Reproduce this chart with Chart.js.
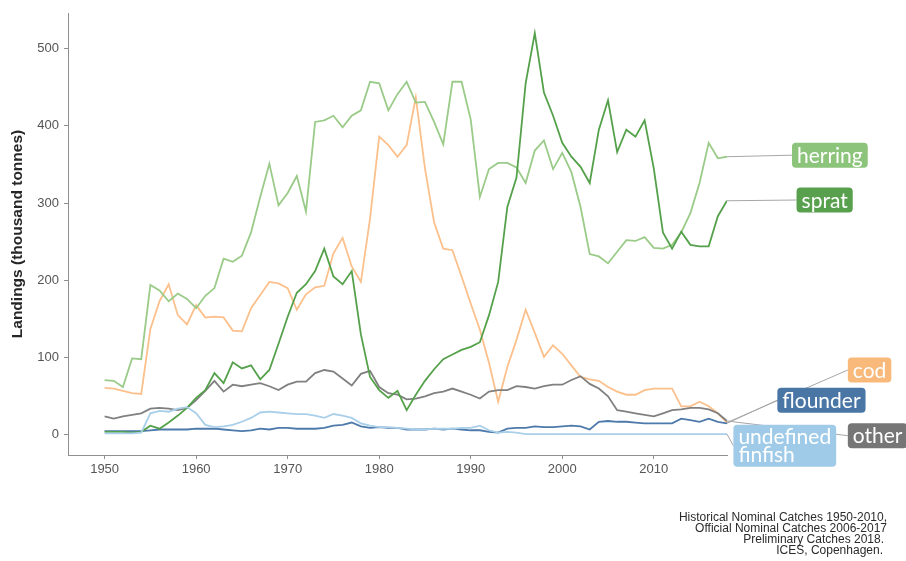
<!DOCTYPE html>
<html>
<head>
<meta charset="utf-8">
<script src="https://cdn.jsdelivr.net/npm/chart.js@4.4.1/dist/chart.umd.min.js"></script>
<style>
  html, body { margin: 0; padding: 0; background: #ffffff; }
  #wrap { width: 906px; height: 561px; }
</style>
</head>
<body>
<div id="wrap"><canvas id="chart" width="906" height="561"></canvas></div>
<script>
// Baltic Sea landings by species, thousand tonnes, 1950-2018
const years = [
  1950, 1951, 1952, 1953, 1954, 1955, 1956, 1957, 1958, 1959,
  1960, 1961, 1962, 1963, 1964, 1965, 1966, 1967, 1968, 1969,
  1970, 1971, 1972, 1973, 1974, 1975, 1976, 1977, 1978, 1979,
  1980, 1981, 1982, 1983, 1984, 1985, 1986, 1987, 1988, 1989,
  1990, 1991, 1992, 1993, 1994, 1995, 1996, 1997, 1998, 1999,
  2000, 2001, 2002, 2003, 2004, 2005, 2006, 2007, 2008, 2009,
  2010, 2011, 2012, 2013, 2014, 2015, 2016, 2017, 2018
];

const herring = [
  71, 70, 62, 99, 98, 194, 187, 173, 183, 176,
  164, 180, 190, 228, 224, 232, 262, 308, 351, 297,
  313, 335, 289, 405, 407, 413, 398, 413, 420, 457,
  455, 420, 441, 457, 430, 431, 405, 376, 457, 457,
  408, 308, 344, 352, 352, 346, 326, 368, 381, 344,
  365, 340, 295, 234, 231, 222, 237, 252, 251, 256,
  242, 241, 246, 262, 287, 326, 378, 358, 360
];

const sprat = [
  4, 4, 4, 3, 4, 12, 8, 16, 25, 35,
  48, 58, 80, 67, 94, 86, 90, 72, 84, 118,
  153, 184, 195, 212, 241, 205, 195, 212, 130, 75,
  58, 48, 57, 32, 52, 70, 85, 98, 104, 110,
  114, 120, 155, 198, 295, 333, 455, 520, 443, 413,
  378, 360, 347, 326, 395, 433, 366, 395, 386, 407,
  345, 262, 241, 263, 246, 244, 244, 283, 303
];

const cod = [
  61, 60, 57, 54, 53, 137, 173, 195, 155, 143,
  168, 152, 153, 152, 135, 134, 164, 181, 198, 196,
  190, 162, 182, 191, 193, 235, 255, 218, 198, 280,
  386, 375, 360, 375, 437, 345, 275, 241, 239, 205,
  170, 136, 93, 43, 88, 123, 162, 132, 101, 116,
  105, 90, 75, 72, 70, 62, 56, 52, 52, 58,
  60, 60, 60, 37, 37, 43, 37, 28, 16
];

const flounder = [
  5, 5, 5, 5, 5, 6, 7, 7, 7, 7,
  8, 8, 8, 7, 6, 5, 6, 8, 7, 9,
  9, 8, 8, 8, 9, 12, 13, 16, 11, 9,
  10, 9, 9, 7, 7, 7, 8, 7, 8, 7,
  6, 6, 4, 3, 8, 9, 9, 11, 10, 10,
  11, 12, 11, 7, 17, 18, 17, 17, 16, 15,
  15, 15, 15, 21, 19, 17, 21, 17, 15
];

const other = [
  24, 21, 24, 26, 28, 34, 35, 34, 32, 35,
  45, 57, 70, 56, 65, 63, 65, 67, 63, 58,
  65, 69, 69, 80, 84, 82, 73, 64, 79, 83,
  62, 54, 52, 46, 47, 50, 54, 56, 60, 56,
  52, 47, 56, 58, 58, 63, 62, 60, 63, 65,
  65, 71, 76, 66, 60, 50, 32, 30, 28, 26,
  24, 28, 32, 33, 35, 35, 33, 28, 18
];

const undefinedFinfish = [
  2, 2, 2, 2, 3, 28, 31, 30, 34, 36,
  28, 13, 10, 11, 13, 17, 22, 29, 30, 29,
  28, 27, 27, 25, 22, 27, 25, 22, 15, 12,
  10, 10, 9, 8, 7, 7, 8, 8, 8, 9,
  9, 12, 6, 3, 4, 3, 1, 1, 1, 1,
  1, 1, 1, 1, 1, 1, 1, 1, 1, 1,
  1, 1, 1, 1, 1, 1, 1, 1, 1
];

const xTicks = [1950, 1960, 1970, 1980, 1990, 2000, 2010];
const yTicks = [0, 100, 200, 300, 400, 500];

const yTitle = 'Landings (thousand tonnes)';
const sourceLines = [
  'Historical Nominal Catches 1950-2010,',
  'Official Nominal Catches 2006-2017',
  'Preliminary Catches 2018.',
  'ICES, Copenhagen.'
];

// Species drawn in this order; the first one ends up on top.
const species = [
  { name: 'undefined finfish', lines: ['undefined', 'finfish'], values: undefinedFinfish, line: '#a9cfe9', box: '#9fcbe8' },
  { name: 'sprat',    lines: ['sprat'],    values: sprat,    line: '#55a14b', box: '#58a04e' },
  { name: 'other',    lines: ['other'],    values: other,    line: '#808080', box: '#767676' },
  { name: 'herring',  lines: ['herring'],  values: herring,  line: '#9acb88', box: '#8dc47b' },
  { name: 'flounder', lines: ['flounder'], values: flounder, line: '#4d79ab', box: '#4a76a6' },
  { name: 'cod',      lines: ['cod'],      values: cod,      line: '#fcc08c', box: '#f9b97a' }
];

// Where each name tag sits: left edge (year) and vertical centre (thousand tonnes)
const tagPlacement = {
  'herring':           { x: 2025.1, y: 362 },
  'sprat':             { x: 2025.6, y: 304 },
  'cod':               { x: 2031.2, y: 84 },
  'flounder':          { x: 2023.5, y: 45 },
  'other':             { x: 2031.2, y: -1 },
  'undefined finfish': { x: 2018.7, y: -14 }
};

const datasets = species.map(s => ({
  label: s.name,
  data: years.map((yr, i) => ({ x: yr, y: s.values[i] })),
  borderColor: s.line,
  backgroundColor: s.line,
  borderWidth: 1.8,
  pointRadius: 0,
  tension: 0,
  fill: false
}));

function roundRect(ctx, x, y, w, h, r) {
  ctx.beginPath();
  ctx.moveTo(x + r, y);
  ctx.lineTo(x + w - r, y);
  ctx.quadraticCurveTo(x + w, y, x + w, y + r);
  ctx.lineTo(x + w, y + h - r);
  ctx.quadraticCurveTo(x + w, y + h, x + w - r, y + h);
  ctx.lineTo(x + r, y + h);
  ctx.quadraticCurveTo(x, y + h, x, y + h - r);
  ctx.lineTo(x, y + r);
  ctx.quadraticCurveTo(x, y, x + r, y);
  ctx.closePath();
}

const decorations = {
  id: 'decorations',
  afterDraw(chart) {
    const ctx = chart.ctx;
    const xs = chart.scales.x, ys = chart.scales.y;
    const area = chart.chartArea;
    ctx.save();

    // y-axis title
    ctx.fillStyle = '#262626';
    ctx.font = 'bold 15.5px "Liberation Sans", Arial, sans-serif';
    ctx.textAlign = 'center';
    ctx.textBaseline = 'middle';
    ctx.translate(18, (area.top + area.bottom) / 2);
    ctx.rotate(-Math.PI / 2);
    ctx.fillText(yTitle, 0, 0);
    ctx.setTransform(1, 0, 0, 1, 0, 0);

    // name tags with leader lines
    const tagFont = '21px Lato, "Open Sans", sans-serif';
    const lineH = 18;
    const padX = 5;
    ctx.font = tagFont;
    const tags = species.map(s => {
      const pos = tagPlacement[s.name];
      const w = Math.max(...s.lines.map(t => ctx.measureText(t).width)) + padX * 2;
      const h = s.lines.length === 1 ? 25 : 42;
      const left = xs.getPixelForValue(pos.x);
      const cy = ys.getPixelForValue(pos.y);
      const endX = xs.getPixelForValue(years[years.length - 1]);
      const endY = ys.getPixelForValue(s.values[s.values.length - 1]);
      return { s, w, h, left, cy, endX, endY };
    });

    ctx.strokeStyle = '#a6a6a6';
    ctx.lineWidth = 1;
    tags.forEach(t => {
      ctx.beginPath();
      ctx.moveTo(t.endX, t.endY);
      ctx.lineTo(t.left, t.cy);
      ctx.stroke();
    });

    tags.forEach(t => {
      roundRect(ctx, t.left, t.cy - t.h / 2, t.w, t.h, 4);
      ctx.fillStyle = t.s.box;
      ctx.fill();
      ctx.fillStyle = '#ffffff';
      ctx.font = tagFont;
      ctx.textAlign = 'left';
      ctx.textBaseline = 'middle';
      const n = t.s.lines.length;
      t.s.lines.forEach((txt, i) => {
        const yy = t.cy + (i - (n - 1) / 2) * lineH + 1;
        ctx.fillText(txt, t.left + padX, yy);
      });
    });

    // source note
    ctx.fillStyle = '#2b2b2b';
    ctx.font = '12px "Liberation Sans", Arial, sans-serif';
    ctx.textAlign = 'right';
    ctx.textBaseline = 'alphabetic';
    const rightEdges = [887, 887, 884, 883];
    sourceLines.forEach((txt, i) => {
      ctx.fillText(txt, rightEdges[i], 521 + i * 11);
    });

    ctx.restore();
  }
};

const tickFont = { family: '"Liberation Sans", Arial, sans-serif', size: 13 };

new Chart(document.getElementById('chart'), {
  type: 'line',
  data: { datasets },
  options: {
    responsive: false,
    animation: false,
    devicePixelRatio: 1,
    layout: { padding: { left: 0, right: 179, top: 13, bottom: 0 } },
    plugins: {
      legend: { display: false },
      tooltip: { enabled: false }
    },
    scales: {
      x: {
        type: 'linear',
        min: 1946,
        max: 2018,
        afterBuildTicks: s => { s.ticks = xTicks.map(v => ({ value: v })); },
        afterFit: s => { s.height = 106; },
        ticks: {
          color: '#555555',
          font: tickFont,
          padding: 3,
          maxRotation: 0,
          autoSkip: false,
          callback: v => String(v)
        },
        grid: { display: true, drawOnChartArea: false, drawTicks: true, tickLength: 4, tickColor: '#8f8f8f', color: '#8f8f8f' },
        border: { display: true, color: '#8f8f8f', width: 1 }
      },
      y: {
        type: 'linear',
        min: -26,
        max: 546,
        afterBuildTicks: s => { s.ticks = yTicks.map(v => ({ value: v })); },
        afterFit: s => { s.width = 68; },
        ticks: {
          color: '#555555',
          font: tickFont,
          padding: 5,
          callback: v => String(v)
        },
        grid: { display: true, drawOnChartArea: false, drawTicks: true, tickLength: 4, tickColor: '#8f8f8f', color: '#8f8f8f' },
        border: { display: true, color: '#8f8f8f', width: 1 }
      }
    }
  },
  plugins: [decorations]
});
</script>
</body>
</html>
